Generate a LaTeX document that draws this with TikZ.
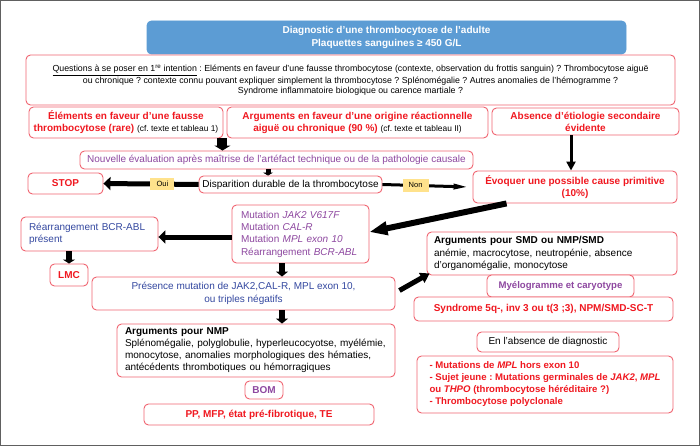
\documentclass[tikz,border=0pt]{standalone}
\usepackage{fontspec}
\setmainfont{Liberation Sans}
\usepackage{xcolor}
\usetikzlibrary{arrows.meta}
\definecolor{boxred}{RGB}{240,100,112}
\definecolor{txtred}{RGB}{240,24,32}
\definecolor{txtpurple}{RGB}{142,72,160}
\definecolor{txtblue}{RGB}{52,72,160}
\definecolor{titleblue}{RGB}{92,156,212}
\definecolor{labyellow}{RGB}{255,226,140}
\definecolor{framegray}{RGB}{96,96,96}
\frenchspacing

\begin{document}
\begin{tikzpicture}[x=1pt,y=-1pt,
    box/.style={draw=boxred,line width=0.9pt,rounded corners=4.5pt,fill=white,inner sep=0pt,align=center,
        font=\fontsize{10}{12}\selectfont},
    redbf/.style={text=txtred,font=\bfseries\fontsize{10}{12}\selectfont},
    fat/.style={draw=black,line width=5pt,-{Triangle[length=7pt,width=13pt]}},
    lab/.style={fill=labyellow,inner sep=0pt,minimum width=24pt,minimum height=12pt,font=\fontsize{7.5}{8}\selectfont}]
    \useasboundingbox (0,0) rectangle (700,446);
    \draw[framegray,line width=1pt] (0.5,0.5) rectangle (699.5,445.5);

    % Title and first questions
    \node[box,draw=titleblue,fill=titleblue,text=white,minimum width=479pt,minimum height=33pt,
        font=\bfseries\fontsize{10}{13}\selectfont] (title) at (386.5,37.5)
        {Diagnostic d'une thrombocytose de l'adulte\\Plaquettes sanguines ≥ 450 G/L};
    \node[box,minimum width=649pt,minimum height=50pt,font=\fontsize{8.8}{10.2}\selectfont] (quest) at (350.5,80)
        {\underline{Questions à se poser en 1\textsuperscript{re} intention} : Eléments en faveur d'une fausse thrombocytose (contexte, observation du frottis sanguin) ? Thrombocytose aiguë\\
        ou chronique ? contexte connu pouvant expliquer simplement la thrombocytose ? Splénomégalie ? Autres anomalies de l'hémogramme ?\\
        Syndrome inflammatoire biologique ou carence martiale ?};

    % Three orientations
    \node[box,redbf,minimum width=194pt,minimum height=31pt] (faux) at (126,122.5)
        {Éléments en faveur d'une fausse\\thrombocytose (rare) {\mdseries\color{black}\fontsize{8.4}{12}\selectfont(cf. texte et tableau 1)}};
    \node[box,redbf,minimum width=261pt,minimum height=31pt] (reac) at (357.5,122.5)
        {Arguments en faveur d'une origine réactionnelle\\aiguë ou chronique (90 \%) {\mdseries\color{black}\fontsize{8.4}{12}\selectfont(cf. texte et tableau II)}};
    \node[box,redbf,minimum width=187pt,minimum height=27pt] (absence) at (585.5,121.5)
        {Absence d'étiologie secondaire\\évidente};

    % Re-evaluation
    \node[box,text=txtpurple,minimum width=393pt,minimum height=18pt] (nouvelle) at (276.5,160)
        {Nouvelle évaluation après maîtrise de l'artéfact technique ou de la pathologie causale};
    \node[box,minimum width=183pt,minimum height=17pt] (dispar) at (290.5,184.5)
        {Disparition durable de la thrombocytose};
    \node[box,redbf,minimum width=75pt,minimum height=21pt] (stop) at (65.5,183.5) {STOP};
    \node[box,redbf,minimum width=204pt,minimum height=32pt] (evoq) at (575,187)
        {Évoquer une possible cause primitive\\(10\%)};

    % Molecular biology
    \node[box,text=txtpurple,align=left,inner xsep=9pt,text width=119pt,minimum height=58pt,
        font=\fontsize{10}{12.3}\selectfont] (mutation) at (300.5,234)
        {Mutation \textit{JAK2 V617F}\\Mutation \textit{CAL-R}\\Mutation \textit{MPL exon 10}\\Réarrangement \textit{BCR-ABL}};
    \node[box,text=txtblue,align=left,inner xsep=8pt,text width=121pt,minimum height=34pt] (bcr) at (89.5,234)
        {Réarrangement BCR-ABL\\présent};
    \node[box,redbf,minimum width=38pt,minimum height=22pt] (lmc) at (69,275) {LMC};
    \node[box,text=txtblue,minimum width=303pt,minimum height=33pt,font=\fontsize{10}{12.5}\selectfont] (presence) at (243.5,293.5)
        {Présence mutation de JAK2,CAL-R, MPL exon 10,\\ou triples négatifs};

    % SMD side
    \node[box,align=left,inner xsep=7pt,text width=236pt,minimum height=43pt,font=\fontsize{10}{12.3}\selectfont] (smd) at (552,253.5)
        {\textbf{Arguments pour SMD ou NMP/SMD}\\anémie, macrocytose, neutropénie, absence\\d'organomégalie, monocytose};
    \node[box,text=txtpurple,minimum width=147pt,minimum height=22pt,font=\bfseries\fontsize{9.6}{11}\selectfont] (myelo) at (560.5,286)
        {Myélogramme et caryotype};
    \node[box,redbf,minimum width=259pt,minimum height=24pt] (synd) at (543.5,309)
        {Syndrome 5q-, inv 3 ou t(3 ;3), NPM/SMD-SC-T};
    \node[box,minimum width=142pt,minimum height=20pt] (absdiag) at (548,342)
        {En l'absence de diagnostic};
    \node[box,redbf,align=left,minimum width=256pt,minimum height=57pt,font=\bfseries\fontsize{9.6}{12}\selectfont] (liste) at (545,384.5)
        {- Mutations de \textit{MPL} hors exon 10\\- Sujet jeune : Mutations germinales de \textit{JAK2}, \textit{MPL}\\ou \textit{THPO} (thrombocytose héréditaire ?)\\- Thrombocytose polyclonale};

    % NMP side
    \node[box,align=left,inner xsep=8pt,text width=262pt,minimum height=53pt] (nmp) at (256,350.5)
        {\textbf{Arguments pour NMP}\\Splénomégalie, polyglobulie, hyperleucocyotse, myélémie,\\monocytose, anomalies morphologiques des hématies,\\antécédents thrombotiques ou hémorragiques};
    \node[box,text=txtpurple,minimum width=38pt,minimum height=18pt,font=\bfseries\fontsize{10}{11}\selectfont] (bom) at (264,390) {BOM};
    \node[box,redbf,minimum width=230pt,minimum height=21pt] (pp) at (259,414.5)
        {PP, MFP, état pré-fibrotique, TE};

    % Arrows
    \draw[draw=black,line width=10pt,-{Triangle[length=5pt,width=16pt]}] ([xshift=-1pt]faux.south east) -- ([xshift=-1pt]faux.south east |- nouvelle.north);
    \draw[draw=black,line width=3pt,-{Triangle[length=9pt,width=9pt]}] ([xshift=-14.5pt]absence.south) -- ([xshift=-14.5pt]absence.south |- evoq.north);
    \draw[draw=black,line width=5pt,-{Triangle[length=3pt,width=10pt]}] ([xshift=-8.5pt]nouvelle.south) -- ([xshift=-8.5pt]nouvelle.south |- dispar.north);
    \draw[fat] (dispar.west) -- node[lab,pos=0.38]{Oui} (stop.east);
    \draw[draw=black,line width=3pt,-{Triangle[length=16pt,width=5pt]}] (dispar.east) -- node[lab,pos=0.38,minimum width=26pt,minimum height=13pt]{Non} ([xshift=-3pt]evoq.west);
    \draw[fat,line width=6pt,-{Triangle[length=18pt,width=13pt]}] ([xshift=34pt]evoq.south west) -- ([yshift=2pt]mutation.east);
    \draw[fat] ([yshift=-3pt]mutation.west) -- ([yshift=-3pt]bcr.east);
    \draw[fat,line width=6pt,-{Triangle[length=4pt,width=12pt]}] (lmc.north |- bcr.south) -- (lmc.north);
    \draw[fat,line width=6pt,-{Triangle[length=5pt,width=12pt]}] ([xshift=-18.5pt]mutation.south) -- ([xshift=-18.5pt]mutation.south |- presence.north);
    \draw[fat,line width=6pt,-{Triangle[length=5pt,width=12pt]}] ([xshift=38.5pt]presence.south) -- ([xshift=38.5pt]presence.south |- nmp.north);
    \draw[fat,-{Triangle[length=9pt,width=11pt]}] ([xshift=4pt,yshift=3pt]presence.east) -- ([xshift=3pt,yshift=2pt]smd.south west);
\end{tikzpicture}
\end{document}
